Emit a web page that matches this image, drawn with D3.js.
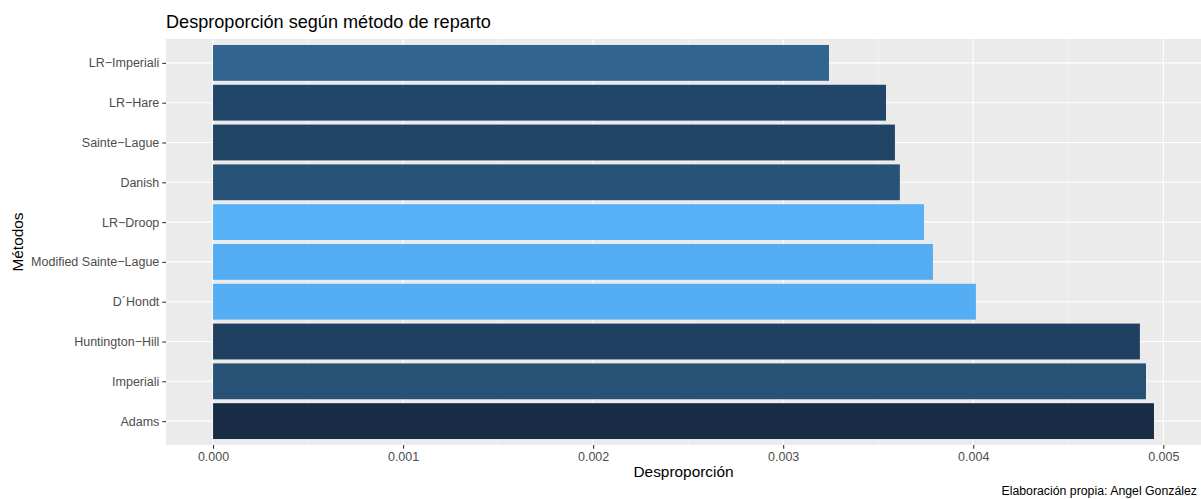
<!DOCTYPE html>
<html lang="es">
<head>
<meta charset="UTF-8">
<title>Desproporción según método de reparto</title>
<script src="https://d3js.org/d3.v7.min.js"></script>
<style>
  body { margin: 0; background: #fff; }
  text { font-family: "Liberation Sans", Arial, Helvetica, sans-serif; }
</style>
</head>
<body>
<div class="chart"></div>
<script>
  // datos (de arriba a abajo)
  const metodos = ["LR\u2212Imperiali", "LR\u2212Hare", "Sainte\u2212Lague", "Danish", "LR\u2212Droop",
                   "Modified Sainte\u2212Lague", "D\u00B4Hondt", "Huntington\u2212Hill", "Imperiali", "Adams"];
  const desproporcion = [0.003241, 0.003541, 0.003588, 0.003614, 0.003741,
                         0.003788, 0.004014, 0.004877, 0.004909, 0.004951];
  const colores = ["#31648F", "#224669", "#204466", "#275378", "#56B1F7",
                   "#54ADF2", "#55AEF4", "#1F4061", "#275275", "#182C45"];
  const xTicks = [0, 0.001, 0.002, 0.003, 0.004, 0.005];
  const xMinor = [0.0005, 0.0015, 0.0025, 0.0035, 0.0045];

  const data = metodos.map((m, i) => ({metodo: m, valor: desproporcion[i], color: colores[i]}));

  const W = 1201, H = 499;
  const margin = {top: 39, right: 0, bottom: 54, left: 166};
  const width = W - margin.left - margin.right;
  const height = H - margin.top - margin.bottom;

  const svg = d3.select('.chart').append('svg')
    .attr('width', W).attr('height', H);

  const g = svg.append('g').attr('transform', `translate(${margin.left},${margin.top})`);

  // escalas a la ggplot (expansión 5% en x, 0.6 en categorías)
  const xmax = d3.max(desproporcion);
  const pad = xmax * 0.05;
  const x = d3.scaleLinear().domain([-pad, xmax + pad]).range([0, width]);

  const n = metodos.length;
  const step = height / (n - 1 + 1.2);
  const yc = d3.scalePoint().domain(metodos).range([0.6 * step, height - 0.6 * step]);
  const barH = step * 0.9;

  g.append('rect').attr('width', width).attr('height', height).attr('fill', '#EBEBEB');

  // rejilla
  g.selectAll('.minor').data(xMinor).enter().append('line')
    .attr('x1', d => x(d)).attr('x2', d => x(d)).attr('y1', 0).attr('y2', height)
    .attr('stroke', '#fff').attr('stroke-width', 0.55);
  g.selectAll('.majx').data(xTicks).enter().append('line')
    .attr('x1', d => x(d)).attr('x2', d => x(d)).attr('y1', 0).attr('y2', height)
    .attr('stroke', '#fff').attr('stroke-width', 1.1);
  g.selectAll('.majy').data(metodos).enter().append('line')
    .attr('x1', 0).attr('x2', width).attr('y1', d => yc(d)).attr('y2', d => yc(d))
    .attr('stroke', '#fff').attr('stroke-width', 1.1);

  // barras
  g.selectAll('.bar').data(data).enter().append('rect')
    .attr('x', x(0))
    .attr('y', d => yc(d.metodo) - barH / 2)
    .attr('width', d => x(d.valor) - x(0))
    .attr('height', barH)
    .attr('fill', d => d.color);

  // ejes
  const xAxis = d3.axisBottom(x).tickValues(xTicks).tickFormat(d3.format('.3f')).tickSizeInner(3.7).tickSizeOuter(0).tickPadding(3);
  const gx = g.append('g').attr('transform', `translate(0,${height})`).call(xAxis);
  const yAxis = d3.axisLeft(yc).tickSizeInner(3.7).tickSizeOuter(0).tickPadding(3);
  const gy = g.append('g').call(yAxis);
  [gx, gy].forEach(a => {
    a.select('.domain').remove();
    a.selectAll('.tick line').attr('stroke', '#333333').attr('stroke-width', 1.1);
    a.selectAll('.tick text').attr('fill', '#4D4D4D').style('font-size', '12.5px')
      .style('font-family', '"Liberation Sans", Arial, sans-serif');
  });

  // títulos
  svg.append('text').attr('x', margin.left).attr('y', 28)
    .style('font-size', '18.1px').attr('fill', '#000')
    .text('Desproporción según método de reparto');
  svg.append('text').attr('x', margin.left + width / 2).attr('y', 477)
    .attr('text-anchor', 'middle').style('font-size', '15.4px').attr('fill', '#000')
    .text('Desproporción');
  svg.append('text')
    .attr('transform', `translate(23,${margin.top + height / 2}) rotate(-90)`)
    .attr('text-anchor', 'middle').style('font-size', '15.4px').attr('fill', '#000')
    .text('Métodos');
  svg.append('text').attr('x', 1197).attr('y', 495)
    .attr('text-anchor', 'end').style('font-size', '12.3px').attr('fill', '#000')
    .text('Elaboración propia: Angel González');
</script>
</body>
</html>
